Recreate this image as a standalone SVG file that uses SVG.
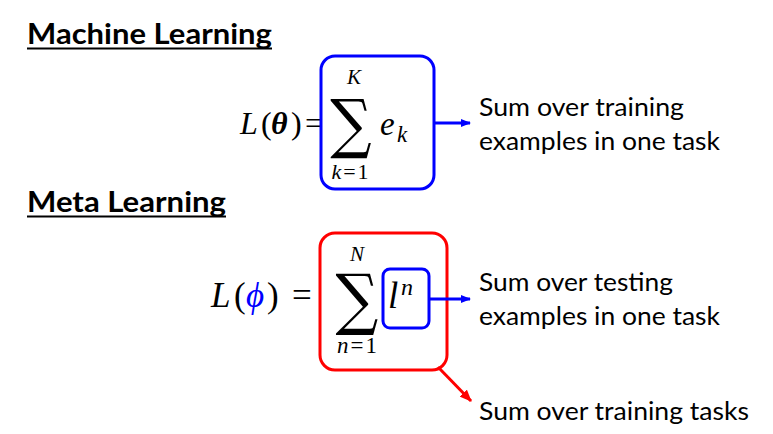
<svg xmlns="http://www.w3.org/2000/svg" width="773" height="434" viewBox="0 0 773 434">
<style>
.title{font-family:"Lato","Open Sans",sans-serif;font-weight:bold;font-size:28px;fill:#000}
.lbl{font-family:"Lato","Open Sans",sans-serif;font-size:25px;fill:#000}
.m{font-family:"Liberation Serif","DejaVu Serif",serif;fill:#000}
.i{font-style:italic}
.blue{fill:#0000ff}
.sig{font-family:"DejaVu Serif",serif;fill:#000}
</style>
<defs>
<marker id="ab" markerWidth="10" markerHeight="8" refX="9" refY="4" orient="auto" markerUnits="userSpaceOnUse"><path d="M0,0 L10,4 L0,8 Z" fill="#0000ff"/></marker>
<marker id="ar" markerWidth="12" markerHeight="10" refX="11" refY="5" orient="auto" markerUnits="userSpaceOnUse"><path d="M0,0 L12,5 L0,10 Z" fill="#ff0000"/></marker>
</defs>
<rect width="773" height="434" fill="#fff"/>
<g id="title-ml">
<text class="title" x="27" y="44" textLength="245" lengthAdjust="spacingAndGlyphs">Machine Learning</text>
<line x1="27" y1="48.5" x2="272" y2="48.5" stroke="#000" stroke-width="2"/>
</g>
<g id="title-meta">
<text class="title" x="27" y="212" textLength="199" lengthAdjust="spacingAndGlyphs">Meta Learning</text>
<line x1="27" y1="216.5" x2="226" y2="216.5" stroke="#000" stroke-width="2"/>
</g>
<g id="eq1">
<text class="m i" x="240" y="134" font-size="32">L</text>
<text class="m" x="261" y="134" font-size="32">(</text>
<text class="m i" x="271" y="134" font-size="32" font-weight="bold">θ</text>
<text class="m" x="291" y="134" font-size="32">)</text>
<text class="m" x="305" y="134" font-size="32">=</text>
</g>
<g id="box1">
<rect x="321" y="56" width="113" height="133" rx="14" fill="none" stroke="#0000ff" stroke-width="3"/>
<text class="sig" x="351" y="146" font-size="58" text-anchor="middle" transform="translate(351 146) scale(1 1.12) translate(-351 -146)">∑</text>
<text class="m i" x="354" y="84" font-size="21" text-anchor="middle">K</text>
<text class="m" x="350" y="179" font-size="22" text-anchor="middle"><tspan class="i">k</tspan><tspan dx="2">=</tspan><tspan dx="2">1</tspan></text>
<text class="m i" x="380" y="135" font-size="33">e</text>
<text class="m i" x="397" y="142" font-size="23">k</text>
</g>
<g id="label1">
<text class="lbl" x="479" y="116" textLength="205" lengthAdjust="spacingAndGlyphs">Sum over training</text>
<text class="lbl" x="479" y="150" textLength="241" lengthAdjust="spacingAndGlyphs">examples in one task</text>
</g>
<g id="eq2">
<text class="m i" x="211" y="307" font-size="35">L</text>
<text class="m" x="234" y="307" font-size="35">(</text>
<text class="m i blue" x="246" y="307" font-size="35">ϕ</text>
<text class="m" x="267" y="307" font-size="35">)</text>
<text class="m" x="292" y="307" font-size="35">=</text>
</g>
<g id="box2">
<rect x="320" y="233" width="127" height="137" rx="15" fill="none" stroke="#ff0000" stroke-width="3"/>
<text class="sig" x="357" y="322" font-size="60" text-anchor="middle" transform="translate(357 322) scale(1 1.12) translate(-357 -322)">∑</text>
<text class="m i" x="357" y="261" font-size="21" text-anchor="middle">N</text>
<text class="m" x="357" y="353" font-size="23" text-anchor="middle"><tspan class="i">n</tspan><tspan dx="2">=</tspan><tspan dx="2">1</tspan></text>
</g>
<g id="box3">
<rect x="383" y="269" width="46" height="59" rx="7" fill="none" stroke="#0000ff" stroke-width="3"/>
<text class="m i" x="388" y="308" font-size="37">l</text>
<text class="m i" x="401" y="295" font-size="24">n</text>
</g>
<g id="label2">
<text class="lbl" x="479" y="291" textLength="194" lengthAdjust="spacingAndGlyphs">Sum over testing</text>
<text class="lbl" x="479" y="325" textLength="241" lengthAdjust="spacingAndGlyphs">examples in one task</text>
</g>
<g id="label3">
<text class="lbl" x="479" y="420" textLength="270" lengthAdjust="spacingAndGlyphs">Sum over training tasks</text>
</g>
<g id="connectors">
<line x1="434" y1="123" x2="470" y2="123" stroke="#0000ff" stroke-width="3" marker-end="url(#ab)"/>
<line x1="429" y1="299" x2="470" y2="299" stroke="#0000ff" stroke-width="3" marker-end="url(#ab)"/>
<line x1="438" y1="367" x2="471" y2="401" stroke="#ff0000" stroke-width="3" marker-end="url(#ar)"/>
</g>
</svg>
